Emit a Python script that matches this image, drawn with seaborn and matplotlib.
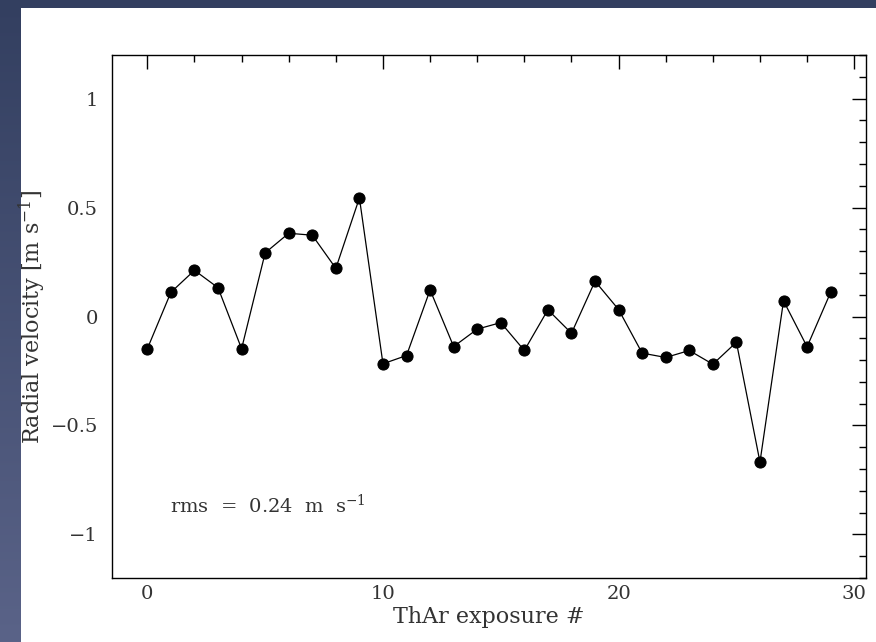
import numpy as np
import pandas as pd
import matplotlib
matplotlib.use("Agg")
import matplotlib.pyplot as plt
import seaborn as sns
from matplotlib.ticker import MultipleLocator

exposure = list(range(30))
rv = [-0.148, 0.111, 0.212, 0.132, -0.148, 0.292, 0.382, 0.373, 0.221, 0.544,
      -0.217, -0.179, 0.122, -0.138, -0.058, -0.028, -0.156, 0.031, -0.077, 0.162,
      0.032, -0.168, -0.188, -0.156, -0.219, -0.118, -0.668, 0.072, -0.139, 0.111]
xlabel = "ThAr exposure #"
ylabel = "Radial velocity [m s$^{-1}$]"
annot = "rms  =  0.24  m  s$^{-1}$"

sns.set_theme(style="white")
plt.rcParams['font.family'] = ['DejaVu Serif']
plt.rcParams['mathtext.fontset'] = 'dejavuserif'

fig = plt.figure(figsize=(8.76, 6.42), dpi=100)
fig.patch.set_facecolor('#34405f')

# background gradient (left strip lighter toward bottom)
grad = np.linspace(0, 1, 642)[:, None]
top = np.array([0x33, 0x3f, 0x60]) / 255
bot = np.array([0x5a, 0x63, 0x88]) / 255
img = top + (bot - top) * grad[..., None]
img = np.repeat(img, 876, axis=1)
fig.figimage(img, xo=0, yo=0, origin='upper', zorder=-10)

# white panel
fig.patches.append(plt.Rectangle((21 / 876, 0), 1 - 21 / 876, (642 - 8) / 642,
                                 transform=fig.transFigure, facecolor='white',
                                 edgecolor='none', zorder=-5))

ax = fig.add_axes([112 / 876, 1 - 578 / 642, (866 - 112) / 876, (578 - 55) / 642])
ax.set_facecolor('white')
df = pd.DataFrame({"x": exposure, "y": rv})
sns.lineplot(data=df, x="x", y="y", ax=ax, color='black', lw=0.9,
             marker='o', markersize=8, markeredgecolor='black', markerfacecolor='black')

ax.set_xlim(-1.5, 30.5)
ax.set_ylim(-1.2, 1.2)
ax.xaxis.set_major_locator(MultipleLocator(10))
ax.xaxis.set_minor_locator(MultipleLocator(2))
ax.yaxis.set_major_locator(MultipleLocator(0.5))
ax.yaxis.set_minor_locator(MultipleLocator(0.1))
ax.set_yticks([-1, -0.5, 0, 0.5, 1])
ax.set_yticklabels(['\u22121', '\u22120.5', '0', '0.5', '1'])

ax.tick_params(which='both', direction='in', top=True, right=True, color='black',
               labelsize=14, labelcolor='#333333')
ax.tick_params(which='major', length=10, width=1)
ax.tick_params(axis='x', which='major', pad=5)
ax.tick_params(axis='y', which='major', pad=10)
ax.tick_params(which='minor', length=5, width=1)
for s in ax.spines.values():
    s.set_color('black')
    s.set_linewidth(1)

ax.set_xlabel(xlabel, fontsize=16, color='#333333', labelpad=2)
ax.set_ylabel(ylabel, fontsize=16, color='#333333', labelpad=2)
ax.text(0.97, -0.867, annot, fontsize=14, color='#333333', va='center', ha='left')

fig.savefig("out.png", dpi=100, facecolor=fig.get_facecolor())
